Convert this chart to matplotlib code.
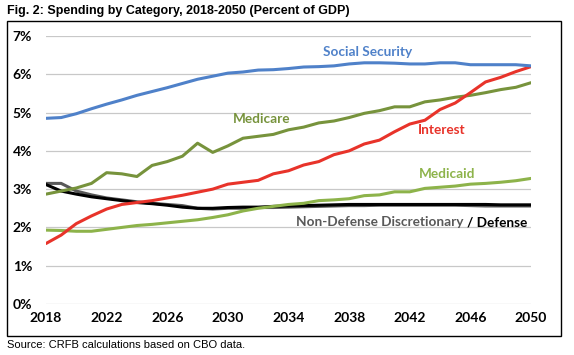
import matplotlib
matplotlib.use('Agg')
import matplotlib.pyplot as plt
import matplotlib.patches as mpatches
import numpy as np

W, H = 574, 355

years = np.arange(2018, 2051)

social_security = [4.85, 4.87, 4.97, 5.10, 5.22, 5.33, 5.45, 5.55, 5.65, 5.76, 5.87,
                   5.95, 6.03, 6.06, 6.11, 6.12, 6.15, 6.19, 6.20, 6.22, 6.27, 6.30,
                   6.30, 6.29, 6.27, 6.27, 6.30, 6.30, 6.25, 6.25, 6.25, 6.25, 6.22]
medicare = [2.87, 2.95, 3.03, 3.15, 3.43, 3.40, 3.33, 3.62, 3.72, 3.86, 4.20,
            3.96, 4.13, 4.33, 4.38, 4.43, 4.55, 4.62, 4.73, 4.78, 4.87, 4.98,
            5.05, 5.15, 5.15, 5.28, 5.33, 5.40, 5.45, 5.52, 5.60, 5.66, 5.78]
interest = [1.58, 1.80, 2.10, 2.30, 2.48, 2.60, 2.65, 2.70, 2.77, 2.84, 2.92,
            3.00, 3.13, 3.18, 3.23, 3.40, 3.48, 3.63, 3.72, 3.90, 4.00, 4.18,
            4.28, 4.50, 4.70, 4.80, 5.08, 5.25, 5.52, 5.80, 5.92, 6.07, 6.20]
medicaid = [1.93, 1.92, 1.90, 1.90, 1.95, 2.00, 2.05, 2.08, 2.12, 2.16, 2.20,
            2.26, 2.33, 2.43, 2.50, 2.55, 2.60, 2.63, 2.70, 2.72, 2.75, 2.83,
            2.85, 2.93, 2.93, 3.02, 3.05, 3.08, 3.13, 3.15, 3.18, 3.22, 3.28]
nondefense = [3.15, 3.15, 2.95, 2.85, 2.77, 2.72, 2.67, 2.63, 2.60, 2.57, 2.50,
              2.48, 2.50, 2.50, 2.52, 2.52, 2.53, 2.54, 2.55, 2.56, 2.57, 2.57,
              2.58, 2.58, 2.58, 2.58, 2.58, 2.58, 2.57, 2.56, 2.56, 2.56, 2.56]
defense = [3.12, 2.95, 2.87, 2.80, 2.75, 2.70, 2.65, 2.62, 2.58, 2.53, 2.50,
           2.50, 2.52, 2.53, 2.53, 2.55, 2.56, 2.57, 2.58, 2.59, 2.60, 2.60,
           2.60, 2.60, 2.60, 2.60, 2.60, 2.60, 2.60, 2.60, 2.59, 2.59, 2.59]

xticks = list(range(2018, 2051, 4))
yticks = list(range(0, 8))

c_ss = '#4F81C9'
c_mcare = '#77933C'
c_int = '#E8332A'
c_mcaid = '#8DB34A'
c_nd = '#595959'
c_def = '#000000'

fig = plt.figure(figsize=(W / 100, H / 100), dpi=100)
ax = fig.add_axes([46 / W, 1 - 304 / H, (531 - 46) / W, (304 - 36) / H])

lw = 2.2
ax.plot(years, nondefense, color=c_nd, lw=lw, solid_capstyle='round')
ax.plot(years, defense, color=c_def, lw=lw, solid_capstyle='round')
ax.plot(years, medicaid, color=c_mcaid, lw=lw, solid_capstyle='round')
ax.plot(years, medicare, color=c_mcare, lw=lw, solid_capstyle='round')
ax.plot(years, interest, color=c_int, lw=lw, solid_capstyle='round')
ax.plot(years, social_security, color=c_ss, lw=lw, solid_capstyle='round')

ax.set_xlim(2018, 2050)
ax.set_ylim(0, 7)
ax.set_yticks(yticks)
ax.set_yticklabels(['{}%'.format(v) for v in yticks])
ax.set_xticks(xticks)
ax.grid(axis='y', color='#C8C8C8', lw=0.9)
ax.set_axisbelow(True)
for s in ax.spines.values():
    s.set_visible(False)
ax.tick_params(length=0)
ax.tick_params(axis='y', pad=10)
ax.tick_params(axis='x', pad=6)
for lab in ax.get_xticklabels() + ax.get_yticklabels():
    lab.set_fontfamily('Lato')
    lab.set_fontweight('bold')
    lab.set_fontsize(10)

lfont = dict(family='Lato', fontweight='bold', fontsize=9.8)
ax.text(2039.2, 6.57, 'Social Security', color=c_ss, ha='center', va='center', **lfont)
ax.text(2032.2, 4.83, 'Medicare', color=c_mcare, ha='center', va='center', **lfont)
ax.text(2044.1, 4.54, 'Interest', color=c_int, ha='center', va='center', **lfont)
ax.text(2044.45, 3.39, 'Medicaid', color=c_mcaid, ha='center', va='center', **lfont)
t = ax.text(2034.5, 2.14, 'Non-Defense Discretionary ', color=c_nd, ha='left', va='center', **lfont)
ax.annotate('/ Defense', xycoords=t, xy=(1, 0.5), va='center', ha='left',
            color=c_def, **lfont)

fig.text(7 / W, 1 - 11 / H, 'Fig. 2: Spending by Category, 2018-2050 (Percent of GDP)',
         family='Liberation Sans', fontweight='bold', fontsize=9, ha='left', va='center')
fig.text(7 / W, 1 - 345 / H, 'Source: CRFB calculations based on CBO data.',
         family='Liberation Sans', fontsize=8, ha='left', va='center')

fig.patches.append(mpatches.Rectangle((7 / W, 1 - 336 / H), (561 - 7) / W, (336 - 21) / H,
                                      transform=fig.transFigure, fill=False,
                                      edgecolor='black', lw=1))

fig.savefig('out.png', dpi=100)
